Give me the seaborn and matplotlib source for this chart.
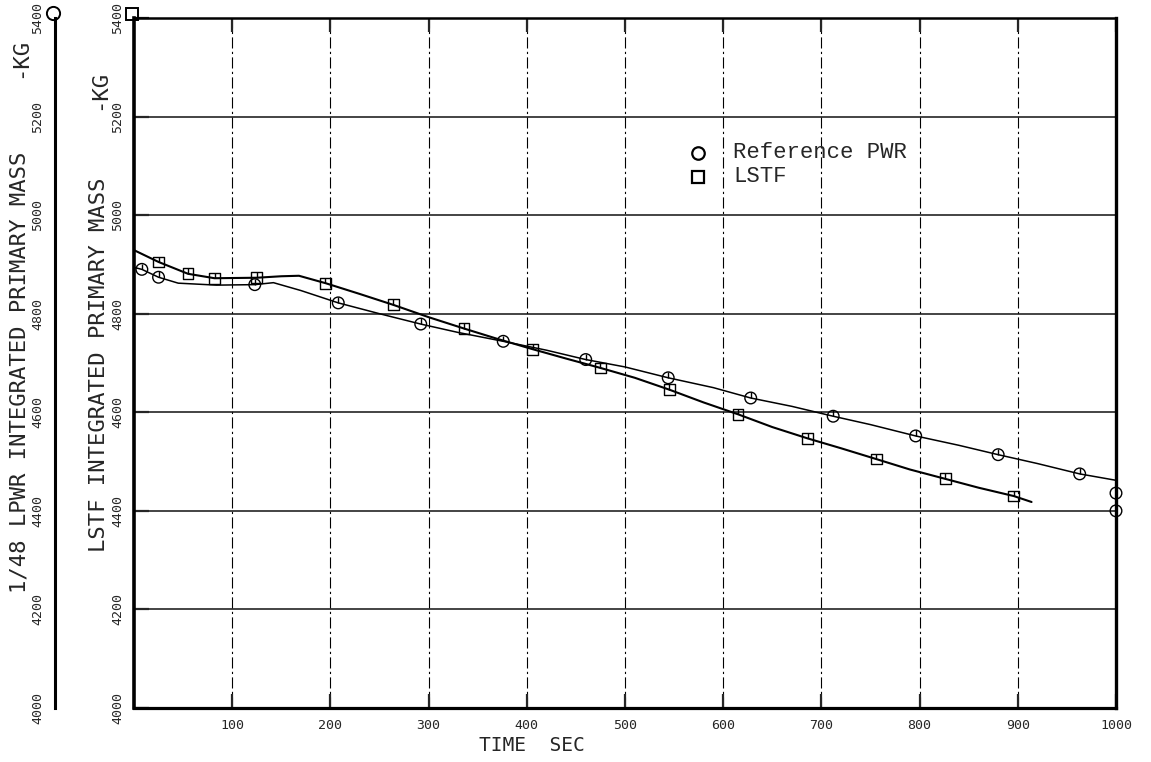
import numpy as np
import pandas as pd
import matplotlib
matplotlib.use("Agg")
import matplotlib.pyplot as plt
from matplotlib.lines import Line2D
from matplotlib.path import Path
import seaborn as sns

# ---- Reference PWR (1/48 LPWR) : calculated curve and plotted symbols ----
ref_line_t = [0, 8, 25, 45, 84, 123, 142, 170, 208, 250, 292, 330, 376, 420,
              460, 500, 544, 590, 628, 670, 712, 750, 796, 840, 880, 920, 963, 1000]
ref_line_m = [4894, 4890, 4874, 4862, 4858, 4859, 4863, 4847, 4822, 4800, 4779, 4762, 4744, 4726,
              4707, 4692, 4670, 4650, 4629, 4612, 4592, 4575, 4552, 4533, 4514, 4496, 4475, 4462]
ref_mark_t = [8, 25, 123, 208, 292, 376, 460, 544, 628, 712, 796, 880, 963]
ref_mark_m = [4890, 4874, 4859, 4822, 4779, 4744, 4707, 4670, 4629, 4592, 4552, 4514, 4475]
ref_edge_t = [1000, 1000]
ref_edge_m = [4436, 4400]

# ---- LSTF : calculated curve and plotted symbols ----
lstf_line_t = [0, 25, 55, 82, 125, 150, 168, 195, 230, 264, 300, 336, 370, 406, 440,
               475, 510, 545, 580, 615, 650, 686, 720, 756, 790, 826, 860, 896, 914]
lstf_line_m = [4929, 4905, 4881, 4872, 4873, 4876, 4877, 4862, 4840, 4818, 4793, 4770, 4749, 4728, 4709,
               4690, 4670, 4646, 4620, 4596, 4570, 4547, 4527, 4505, 4484, 4465, 4447, 4430, 4418]
lstf_mark_t = [25, 55, 82, 125, 195, 264, 336, 406, 475, 545, 615, 686, 756, 826, 896]
lstf_mark_m = [4905, 4881, 4872, 4873, 4862, 4818, 4770, 4728, 4690, 4646, 4596, 4547, 4505, 4465, 4430]

x_ticks = [100, 200, 300, 400, 500, 600, 700, 800, 900, 1000]
y_ticks = [4000, 4200, 4400, 4600, 4800, 5000, 5200, 5400]

ref_line = pd.DataFrame({"t": ref_line_t, "m": ref_line_m})
lstf_line = pd.DataFrame({"t": lstf_line_t, "m": lstf_line_m})
ref_pts = pd.DataFrame({"t": ref_mark_t, "m": ref_mark_m})
ref_edge = pd.DataFrame({"t": ref_edge_t, "m": ref_edge_m})
lstf_pts = pd.DataFrame({"t": lstf_mark_t, "m": lstf_mark_m})

sns.set_style("white")
plt.rcParams["font.family"] = ["DejaVu Sans Mono", "DejaVu Sans"]

W, H = 1151, 762
fig = plt.figure(figsize=(W / 100, H / 100), dpi=100)

L, R, T, B = 134, 1116, 18, 708
ax = fig.add_axes([L / W, 1 - B / H, (R - L) / W, (B - T) / H])

# small vertical stroke drawn inside each plotting symbol
stroke = Path([(0, 0), (0, 1)], [Path.MOVETO, Path.LINETO])

sns.lineplot(data=ref_line, x="t", y="m", ax=ax, color="k", lw=1.1,
             sort=False, estimator=None)
sns.lineplot(data=lstf_line, x="t", y="m", ax=ax, color="k", lw=1.5,
             sort=False, estimator=None)

for df, mk, s, clip in [(ref_pts, "o", 70, True), (ref_edge, "o", 70, False),
                        (lstf_pts, "s", 60, True)]:
    sns.scatterplot(data=df, x="t", y="m", ax=ax, marker=mk, s=s,
                    facecolor="none", edgecolor="k", linewidth=1.0,
                    clip_on=clip, zorder=4)
    sns.scatterplot(data=df, x="t", y="m", ax=ax, marker=stroke, s=s,
                    facecolor="none", edgecolor="k", linewidth=1.0,
                    clip_on=clip, zorder=4)

ax.set_xlim(0, 1000)
ax.set_ylim(4000, 5400)
ax.set_xticks(x_ticks)
ax.set_xticklabels([str(v) for v in x_ticks], fontsize=9.5)
ax.set_yticks(y_ticks)
ax.set_yticklabels([str(v) for v in y_ticks], fontsize=9.5, rotation=90,
                   va="center", ha="right")

ax.xaxis.grid(True, color="k", lw=0.8, ls=(0, (10, 3, 2, 3)))
ax.yaxis.grid(True, color="#111111", lw=1.1, ls="-")
ax.tick_params(axis="x", direction="in", length=10, width=1.6, pad=8,
               top=True, bottom=True)
ax.tick_params(axis="y", direction="in", length=11, width=1.6, pad=7,
               left=True, right=False)
for side, lw in [("left", 2.6), ("bottom", 2.3), ("top", 1.8), ("right", 2.4)]:
    ax.spines[side].set_color("k")
    ax.spines[side].set_linewidth(lw)

ax.set_ylabel("")
ax.set_xlabel("TIME  SEC", fontsize=14)
ax.xaxis.set_label_coords((532 - L) / (R - L), -(736 - B) / (B - T))

# outer mass scale for the 1/48 LPWR
ax2 = fig.add_axes([55 / W, 1 - B / H, 0.0005, (B - T) / H])
ax2.set_ylim(4000, 5400)
ax2.set_yticks(y_ticks)
ax2.set_yticklabels([str(v) for v in y_ticks], fontsize=9.5, rotation=90,
                    va="center", ha="right")
ax2.set_xticks([])
for side in ["top", "right", "bottom"]:
    ax2.spines[side].set_visible(False)
ax2.spines["left"].set_linewidth(2.2)
ax2.spines["left"].set_color("k")
ax2.tick_params(axis="y", direction="in", length=8, width=1.6, pad=8)
ax2.patch.set_alpha(0)

# axis titles
fig.text(20 / W, 1 - 372 / H, "1/48 LPWR INTEGRATED PRIMARY MASS", rotation=90,
         ha="center", va="center", fontsize=16)
fig.text(20 / W, 1 - 58 / H, "-KG", rotation=90, ha="center", va="center", fontsize=16)
fig.text(99 / W, 1 - 365 / H, "LSTF INTEGRATED PRIMARY MASS", rotation=90,
         ha="center", va="center", fontsize=16)
fig.text(99 / W, 1 - 90 / H, "-KG", rotation=90, ha="center", va="center", fontsize=16)

# series keys on the two mass scales
fig.add_artist(Line2D([53 / W], [1 - 13 / H], marker="o", ms=9.5, mfc="none",
                      mec="k", mew=1.4, transform=fig.transFigure))
fig.add_artist(Line2D([132 / W], [1 - 14 / H], marker="s", ms=8, mfc="none",
                      mec="k", mew=1.4, transform=fig.transFigure))

# legend
leg_x = (698 - L) / (R - L)
txt_x = (733 - L) / (R - L)
for yy, mk, ms, label in [(153, "o", 9, "Reference PWR"), (177, "s", 8, "LSTF")]:
    ya = (B - yy) / (B - T)
    ax.plot([leg_x], [ya], transform=ax.transAxes, marker=mk, ms=ms, mfc="none",
            mec="k", mew=1.6, ls="none")
    ax.text(txt_x, ya, label, transform=ax.transAxes, ha="left", va="center",
            fontsize=16, family=["Liberation Mono", "DejaVu Sans Mono"])

fig.savefig("out.png", dpi=100)
